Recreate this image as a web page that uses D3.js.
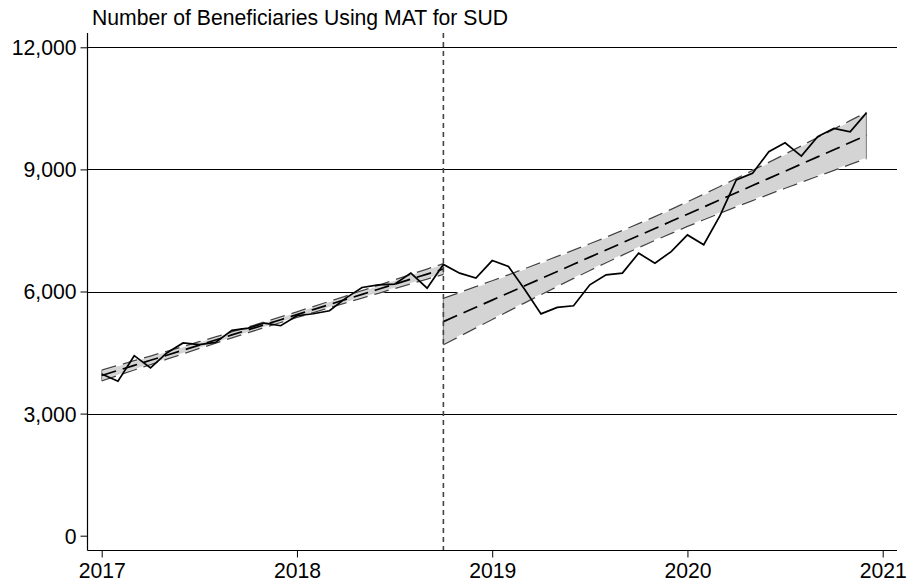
<!DOCTYPE html>
<html>
<head>
<meta charset="utf-8">
<script src="https://cdn.jsdelivr.net/npm/d3@7"></script>
<style>
  html, body { margin: 0; padding: 0; background: #fff; }
  svg { display: block; }
  text { font-family: "Liberation Sans", Arial, Helvetica, sans-serif; fill: #000; }
</style>
</head>
<body>
<svg id="chart" width="908" height="587"></svg>
<script>
// Monthly beneficiaries using MAT for SUD, Jan 2017 – Dec 2020
const startYear = 2017;
const beneficiaries = [
  3975, 3794, 4423, 4122, 4490, 4735, 4693, 4750, 5044, 5102, 5225, 5159,   // 2017
  5404, 5453, 5527, 5838, 6098, 6164, 6181, 6451, 6083, 6665, 6451, 6328,   // 2018
  6760, 6613, 6050, 5450, 5608, 5649, 6164, 6409, 6451, 6942, 6696, 6981,   // 2019
  7390, 7148, 7864, 8740, 8903, 9433, 9654, 9327, 9801, 10006, 9923, 10389  // 2020
];
// Policy change month (index into the monthly series): October 2018
const breakIndex = 21;
const yTicks = [0, 3000, 6000, 9000, 12000];
const xTicks = [2017, 2018, 2019, 2020, 2021];
const titleText = "Number of Beneficiaries Using MAT for SUD";

const data = beneficiaries.map((v, i) => ({ i, t: startYear + i / 12, v }));

const svg = d3.select("#chart");
const x = d3.scaleLinear().domain([2017, 2021]).range([101.7, 882.7]);
const y = d3.scaleLinear().domain([0, 12000]).range([535.7, 47.3]);

const axisX = 87.5, axisY = 550.5, axisTop = 33, axisRight = 897;
const fontSize = 21.2;

// Critical t value (two-sided 95%) via Cornish-Fisher expansion
function tCrit(df) {
  const z = 1.959964;
  return z + (z ** 3 + z) / (4 * df) + (5 * z ** 5 + 16 * z ** 3 + 3 * z) / (96 * df * df);
}

// Linear fit with 95% confidence band for the mean prediction
function fitWithCI(pts) {
  const n = pts.length;
  const mx = d3.mean(pts, d => d.i), my = d3.mean(pts, d => d.v);
  const sxx = d3.sum(pts, d => (d.i - mx) ** 2);
  const sxy = d3.sum(pts, d => (d.i - mx) * (d.v - my));
  const b = sxy / sxx, a = my - b * mx;
  const sse = d3.sum(pts, d => (d.v - (a + b * d.i)) ** 2);
  const s = Math.sqrt(sse / (n - 2));
  const tc = tCrit(n - 2);
  return pts.map(d => {
    const fit = a + b * d.i;
    const half = tc * s * Math.sqrt(1 / n + (d.i - mx) ** 2 / sxx);
    return { t: d.t, fit, lo: fit - half, hi: fit + half };
  });
}

const pre = fitWithCI(data.filter(d => d.i <= breakIndex));
const post = fitWithCI(data.filter(d => d.i >= breakIndex));

// Grid lines
svg.append("g").selectAll("line")
  .data(yTicks.filter(v => v > 0))
  .join("line")
  .attr("x1", axisX).attr("x2", axisRight)
  .attr("y1", d => Math.round(y(d)) + 0.5).attr("y2", d => Math.round(y(d)) + 0.5)
  .attr("stroke", "#000").attr("stroke-width", 1);

// Confidence bands
const area = d3.area().x(d => x(d.t)).y0(d => y(d.lo)).y1(d => y(d.hi));
const lineOf = key => d3.line().x(d => x(d.t)).y(d => y(d[key]));

[pre, post].forEach(fit => {
  const g = svg.append("g");
  g.append("path").datum(fit).attr("d", area).attr("fill", "#d4d4d4").attr("stroke", "none");
  // band ends
  [fit[0], fit[fit.length - 1]].forEach(d => {
    g.append("line")
      .attr("x1", x(d.t)).attr("x2", x(d.t))
      .attr("y1", y(d.lo)).attr("y2", y(d.hi))
      .attr("stroke", "#8a8a8a").attr("stroke-width", 1.2);
  });
  ["lo", "hi"].forEach(k => {
    g.append("path").datum(fit).attr("d", lineOf(k))
      .attr("fill", "none").attr("stroke", "#fff").attr("stroke-width", 1.6);
    g.append("path").datum(fit).attr("d", lineOf(k))
      .attr("fill", "none").attr("stroke", "#444").attr("stroke-width", 1.3)
      .attr("stroke-dasharray", "15,7");
  });
  g.append("path").datum(fit).attr("d", lineOf("fit"))
    .attr("fill", "none").attr("stroke", "#000").attr("stroke-width", 1.7)
    .attr("stroke-dasharray", "15,7");
});

// Observed series
svg.append("path").datum(data)
  .attr("d", d3.line().x(d => x(d.t)).y(d => y(d.v)))
  .attr("fill", "none").attr("stroke", "#000").attr("stroke-width", 1.7)
  .attr("stroke-linejoin", "miter");

// Policy break marker
const breakX = x(startYear + breakIndex / 12);
svg.append("line")
  .attr("x1", breakX).attr("x2", breakX)
  .attr("y1", axisTop).attr("y2", axisY)
  .attr("stroke", "#444").attr("stroke-width", 1.6)
  .attr("stroke-dasharray", "5,4");

// Y axis
const gy = svg.append("g").attr("transform", `translate(${axisX},0)`)
  .call(d3.axisLeft(y).tickValues(yTicks).tickFormat(d3.format(",")).tickSizeOuter(0).tickSize(7).tickPadding(4));
gy.select(".domain").remove();
gy.selectAll(".tick line").attr("stroke", "#000").attr("stroke-width", 1);
gy.selectAll(".tick text").attr("font-size", fontSize).attr("dy", "0.35em")
  .style("font-family", "'Liberation Sans', Arial, sans-serif");
svg.append("line").attr("x1", axisX).attr("x2", axisX)
  .attr("y1", axisTop).attr("y2", axisY).attr("stroke", "#000").attr("stroke-width", 1.2);

// X axis
const gx = svg.append("g").attr("transform", `translate(0,${axisY})`)
  .call(d3.axisBottom(x).tickValues(xTicks).tickFormat(d3.format("d")).tickSizeOuter(0).tickSize(7).tickPadding(5));
gx.select(".domain").remove();
gx.selectAll(".tick line").attr("stroke", "#000").attr("stroke-width", 1);
gx.selectAll(".tick text").attr("font-size", fontSize)
  .style("font-family", "'Liberation Sans', Arial, sans-serif");
svg.append("line").attr("x1", axisX).attr("x2", axisRight)
  .attr("y1", axisY).attr("y2", axisY).attr("stroke", "#000").attr("stroke-width", 1.2);

// Title
svg.append("text").attr("x", 92).attr("y", 25)
  .attr("font-size", fontSize).text(titleText);
</script>
</body>
</html>
